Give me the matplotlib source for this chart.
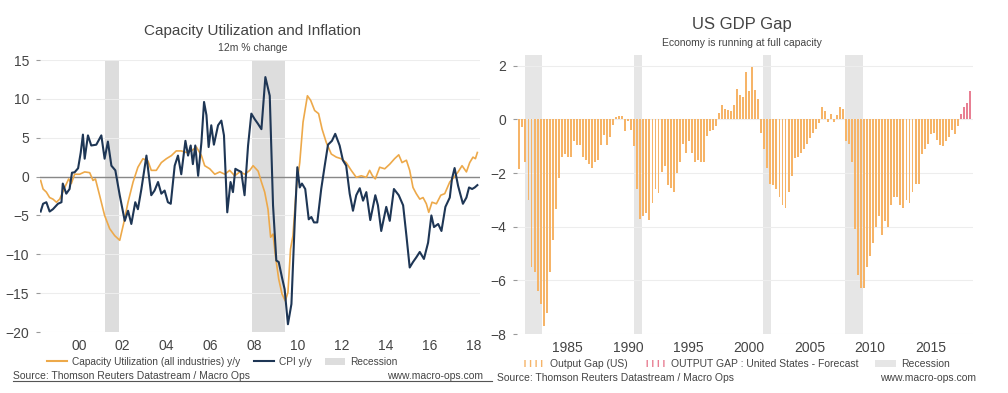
import numpy as np
import matplotlib
matplotlib.use("Agg")
import matplotlib.pyplot as plt
from matplotlib.lines import Line2D
from matplotlib.patches import Patch

plt.rcParams['font.family'] = ['Liberation Sans', 'DejaVu Sans']

# ---- left chart data (decimal years, % y/y) ----
cpi_years = [1998.25, 1998.36, 1998.51, 1998.66, 1998.81, 1999.04, 1999.2, 1999.26, 1999.42, 1999.57,
             1999.68, 1999.8, 1999.96, 2000.08, 2000.18, 2000.26, 2000.41, 2000.56, 2000.79, 2001.02,
             2001.17, 2001.32, 2001.48, 2001.66, 2001.86, 2002.09, 2002.24, 2002.39, 2002.57, 2002.69,
             2002.85, 2003.08, 2003.3, 2003.45, 2003.61, 2003.76, 2003.91, 2004.06, 2004.19, 2004.37,
             2004.52, 2004.67, 2004.86, 2004.98, 2005.1, 2005.2, 2005.31, 2005.44, 2005.59, 2005.71,
             2005.82, 2005.92, 2006.04, 2006.16, 2006.35, 2006.5, 2006.62, 2006.77, 2006.92, 2007.03,
             2007.14, 2007.26, 2007.41, 2007.56, 2007.72, 2007.87, 2008.02, 2008.17, 2008.33, 2008.51,
             2008.71, 2008.86, 2009.01, 2009.12, 2009.27, 2009.39, 2009.54, 2009.7, 2009.85, 2009.97,
             2010.08, 2010.18, 2010.33, 2010.49, 2010.61, 2010.73, 2010.88, 2011.06, 2011.22, 2011.37,
             2011.55, 2011.7, 2011.9, 2012.05, 2012.2, 2012.36, 2012.51, 2012.66, 2012.82, 2012.97,
             2013.12, 2013.3, 2013.53, 2013.65, 2013.8, 2014.03, 2014.19, 2014.38, 2014.6, 2014.8,
             2014.95, 2015.1, 2015.25, 2015.4, 2015.56, 2015.75, 2015.94, 2016.09, 2016.21, 2016.4,
             2016.55, 2016.73, 2016.93, 2017.03, 2017.15, 2017.31, 2017.53, 2017.69, 2017.81, 2017.95,
             2018.07, 2018.19]
cpi_vals = [-4.5, -3.5, -3.3, -4.5, -4.2, -3.5, -3.3, -0.9, -2.2, -1.6,
            0.5, 0.55, 1.07, 3.1, 5.4, 2.3, 5.3, 4.0, 4.1, 5.3,
            2.3, 4.5, 1.4, 0.8, -2.4, -5.7, -4.4, -6.1, -3.3, -4.2,
            -1.6, 2.7, -2.4, -1.8, -0.7, -2.2, -1.8, -3.3, -3.5, 1.4,
            2.7, 0.3, 4.6, 2.7, 4.0, 1.6, 4.0, 0.1, 4.4, 9.6,
            7.9, 3.8, 6.6, 4.1, 6.6, 7.2, 5.3, -4.6, -0.7, -2.0,
            1.0, 0.8, 0.6, -2.4, 4.0, 8.1, 7.4, 6.8, 6.1, 12.8,
            10.4, -3.7, -10.8, -11.0, -13.0, -14.5, -19.0, -16.4, -5.9, 1.2,
            -1.4, -0.9, -1.6, -5.5, -5.2, -5.9, -5.9, -1.6, 1.4, 4.1,
            4.6, 5.5, 4.0, 2.1, 1.4, -2.2, -4.4, -2.4, -1.5, -3.1,
            -2.0, -5.6, -2.4, -3.7, -7.0, -3.9, -5.7, -1.6, -2.4, -3.7,
            -7.6, -11.7, -11.0, -10.4, -9.7, -10.6, -8.5, -5.0, -6.5, -6.1,
            -7.0, -3.9, -2.7, -0.3, 1.1, -1.2, -3.5, -2.7, -1.4, -1.6,
            -1.4, -1.1]

cu_years = [1998.25, 1998.36, 1998.51, 1998.66, 1998.81, 1998.97, 1999.12, 1999.35, 1999.53, 1999.65,
            1999.8, 2000.03, 2000.26, 2000.49, 2000.64, 2000.75, 2000.94, 2001.17, 2001.4, 2001.63,
            2001.86, 2002.05, 2002.24, 2002.47, 2002.69, 2002.92, 2003.15, 2003.3, 2003.53, 2003.76,
            2003.99, 2004.22, 2004.44, 2004.67, 2004.9, 2005.13, 2005.36, 2005.59, 2005.74, 2005.97,
            2006.2, 2006.43, 2006.66, 2006.88, 2007.11, 2007.34, 2007.57, 2007.8, 2007.95, 2008.18,
            2008.33, 2008.48, 2008.63, 2008.75, 2008.86, 2008.97, 2009.12, 2009.27, 2009.42, 2009.54,
            2009.66, 2009.77, 2009.92, 2010.08, 2010.23, 2010.43, 2010.58, 2010.76, 2010.94, 2011.1,
            2011.29, 2011.52, 2011.75, 2011.97, 2012.2, 2012.43, 2012.66, 2012.89, 2013.12, 2013.27,
            2013.4, 2013.53, 2013.73, 2013.96, 2014.19, 2014.41, 2014.6, 2014.75, 2014.95, 2015.1,
            2015.25, 2015.4, 2015.56, 2015.71, 2015.86, 2015.97, 2016.12, 2016.32, 2016.52, 2016.7,
            2016.93, 2017.12, 2017.31, 2017.49, 2017.69, 2017.84, 2017.99, 2018.1, 2018.19]
cu_vals = [-0.5, -1.6, -2.0, -2.7, -2.9, -3.3, -2.9, -1.4, -0.3, -0.9,
           0.3, 0.3, 0.6, 0.5, -0.5, -0.3, -2.4, -5.0, -6.7, -7.6,
           -8.2, -5.9, -3.3, -0.7, 1.2, 2.3, 2.0, 0.8, 0.8, 1.8,
           2.3, 2.7, 3.3, 3.3, 3.1, 3.3, 3.8, 2.7, 1.4, 1.0,
           0.3, 0.6, 0.3, 0.8, 0.1, 0.6, 0.3, 0.8, 1.4, 0.7,
           -0.7, -2.0, -4.2, -7.8, -7.4, -10.2, -13.2, -15.1, -16.0, -14.9,
           -9.3, -7.6, -1.6, 1.8, 7.0, 10.4, 9.8, 8.5, 8.1, 6.1,
           4.4, 2.9, 2.5, 2.3, 1.8, 0.8, -0.1, 0.1, -0.1, 0.8,
           0.1, -0.3, 1.2, 1.0, 1.6, 2.3, 2.8, 1.8, 2.1, 0.8,
           -1.4, -2.2, -2.9, -2.7, -3.5, -4.6, -3.3, -3.5, -2.4, -2.2,
           -0.7, -0.1, 0.6, 1.4, 0.6, 1.8, 2.5, 2.3, 3.1]

left_recessions = [(2001.17, 2001.83), (2007.92, 2009.42)]
left_ticks = [2000, 2002, 2004, 2006, 2008, 2010, 2012, 2014, 2016, 2018]
left_ticklabels = ['00', '02', '04', '06', '08', '10', '12', '14', '16', '18']

# ---- right chart data (quarterly output gap, % of potential, 1981Q1 onwards) ----
gap_start = 1981.0
gap_vals = [-1.85, -0.3, -1.6, -3.0, -5.5, -5.7, -6.4, -6.9, -7.7, -7.2,
            -5.7, -4.5, -3.35, -2.2, -1.4, -1.3, -1.4, -1.4, -0.8, -0.95,
            -0.95, -1.4, -1.5, -1.65, -1.8, -1.6, -1.5, -0.95, -0.6, -0.95,
            -0.65, -0.2, 0.1, 0.14, 0.14, -0.45, -0.07,
            -0.4, -1.0, -2.6, -3.7, -3.6, -3.5, -3.75, -3.1, -2.6, -2.75,
            -1.95, -1.75, -2.45, -2.57, -2.7, -2.0, -1.6, -0.9, -1.25, -0.8,
            -1.25, -1.57, -1.5, -1.57, -1.57, -0.63, -0.45, -0.38, -0.26,
            0.25, 0.55, 0.4, 0.35, 0.3, 0.55, 1.15, 0.9, 0.85, 1.75,
            1.05, 1.95, 1.1, 0.75,
            -0.5, -1.1, -1.8, -2.4, -2.45, -2.6, -2.9, -3.2, -3.3, -2.7,
            -2.1, -1.45, -1.4, -1.25, -1.1, -0.9, -0.7, -0.5, -0.35, -0.15,
            0.47, 0.3, -0.1, 0.2, -0.1, 0.15, 0.45, 0.4,
            -0.8, -0.9, -1.6, -4.1,
            -5.8, -6.3, -6.3, -5.5, -5.1, -4.6, -4.0, -3.6, -4.3, -3.8,
            -4.0, -3.2, -2.9, -2.9, -3.2, -3.3, -3.0, -3.1, -2.7, -2.4,
            -2.4, -1.3, -1.1, -0.9, -0.55, -0.5, -0.75, -0.95, -1.0, -0.8,
            -0.65, -0.4, -0.55, -0.25]
forecast_vals = [0.2, 0.45, 0.6, 1.05]
right_recessions = [(1981.5, 1982.85), (1990.5, 1991.17), (2001.17, 2001.83), (2007.92, 2009.42)]
right_ticks = [1985, 1990, 1995, 2000, 2005, 2010, 2015]

orange = '#EDA94A'
navy = '#1E3655'
bar_orange = '#F6B468'
bar_red = '#E87F93'
text_c = '#444444'
grid_c = '#EDEDED'

W, H = 1008, 393
fig = plt.figure(figsize=(W / 100, H / 100), dpi=100)


def box(x0, y0, x1, y1):
    return [x0 / W, 1 - y1 / H, (x1 - x0) / W, (y1 - y0) / H]


def style(ax):
    for s in ax.spines.values():
        s.set_visible(False)
    ax.grid(axis='y', color=grid_c, lw=0.8)
    ax.set_axisbelow(True)
    ax.tick_params(axis='y', length=3, color='#999999', pad=5, labelsize=10, labelcolor=text_c)
    ax.tick_params(axis='x', length=0, pad=5, labelsize=10, labelcolor=text_c)


# left chart
ax1 = fig.add_axes(box(40, 60, 480, 332))
style(ax1)
for a, b in left_recessions:
    ax1.axvspan(a, b, color='#DDDDDD', lw=0, zorder=0)
ax1.axhline(0, color='#888888', lw=1, zorder=1)
ax1.plot(cu_years, cu_vals, color=orange, lw=1.2, zorder=2)
ax1.plot(cpi_years, cpi_vals, color=navy, lw=1.5, zorder=3)
ax1.set_xlim(1998.22, 2018.31)
ax1.set_ylim(-20, 15)
ax1.set_yticks([15, 10, 5, 0, -5, -10, -15, -20])
ax1.set_xticks(left_ticks)
ax1.set_xticklabels(left_ticklabels)

fig.text(253 / W, 1 - 31 / H, 'Capacity Utilization and Inflation', ha='center', va='center',
         fontsize=11, color=text_c)
fig.text(253 / W, 1 - 48 / H, '12m % change', ha='center', va='center', fontsize=7.5, color=text_c)

h1 = [Line2D([], [], color=orange, lw=1.5), Line2D([], [], color=navy, lw=1.5),
      Patch(facecolor='#DDDDDD', edgecolor='none')]
fig.legend(h1, ['Capacity Utilization (all industries) y/y', 'CPI y/y', 'Recession'],
           loc='center left', bbox_to_anchor=(38 / W, 1 - 362 / H), ncol=3, frameon=False,
           fontsize=7.3, handlelength=2.0, handletextpad=0.5, columnspacing=1.3,
           labelcolor=text_c)

fig.text(13 / W, 1 - 376 / H, 'Source: Thomson Reuters Datastream / Macro Ops', ha='left', va='center',
         fontsize=7.5, color=text_c)
fig.text(483 / W, 1 - 376 / H, 'www.macro-ops.com', ha='right', va='center', fontsize=7.5, color=text_c)
fig.add_artist(Line2D([13 / W, 492 / W], [1 - 381 / H, 1 - 381 / H], color='#555555', lw=0.8))

# right chart
ax2 = fig.add_axes(box(517, 55, 973, 334))
style(ax2)
for a, b in right_recessions:
    ax2.axvspan(a, b, color='#E6E6E6', lw=0, zorder=0)
q_hist = gap_start + 0.25 * np.arange(len(gap_vals))
q_fc = q_hist[-1] + 0.25 * np.arange(1, len(forecast_vals) + 1)
ax2.bar(q_hist, gap_vals, width=0.16, color=bar_orange, zorder=2)
ax2.bar(q_fc, forecast_vals, width=0.16, color=bar_red, zorder=2)
ax2.set_xlim(1980.8, 2018.5)
ax2.set_ylim(-8, 2.4)
ax2.set_yticks([2, 0, -2, -4, -6, -8])
ax2.set_xticks(right_ticks)

fig.text(742 / W, 1 - 25 / H, 'US GDP Gap', ha='center', va='center', fontsize=12, color=text_c)
fig.text(742 / W, 1 - 43 / H, 'Economy is running at full capacity', ha='center', va='center',
         fontsize=7.5, color=text_c)

h2 = [Patch(facecolor='white', edgecolor=bar_orange, hatch='|||', lw=0),
      Patch(facecolor='white', edgecolor=bar_red, hatch='|||', lw=0),
      Patch(facecolor='#E6E6E6', edgecolor='none')]
fig.legend(h2, ['Output Gap (US)', 'OUTPUT GAP : United States - Forecast', 'Recession'],
           loc='center left', bbox_to_anchor=(515 / W, 1 - 364 / H), ncol=3, frameon=False,
           fontsize=7.5, handlelength=2.0, handletextpad=0.5, columnspacing=1.6,
           labelcolor=text_c)

fig.text(497 / W, 1 - 378 / H, 'Source: Thomson Reuters Datastream / Macro Ops', ha='left', va='center',
         fontsize=7.5, color=text_c)
fig.text(976 / W, 1 - 378 / H, 'www.macro-ops.com', ha='right', va='center', fontsize=7.5, color=text_c)

fig.savefig('out.png', dpi=100, facecolor='white')
